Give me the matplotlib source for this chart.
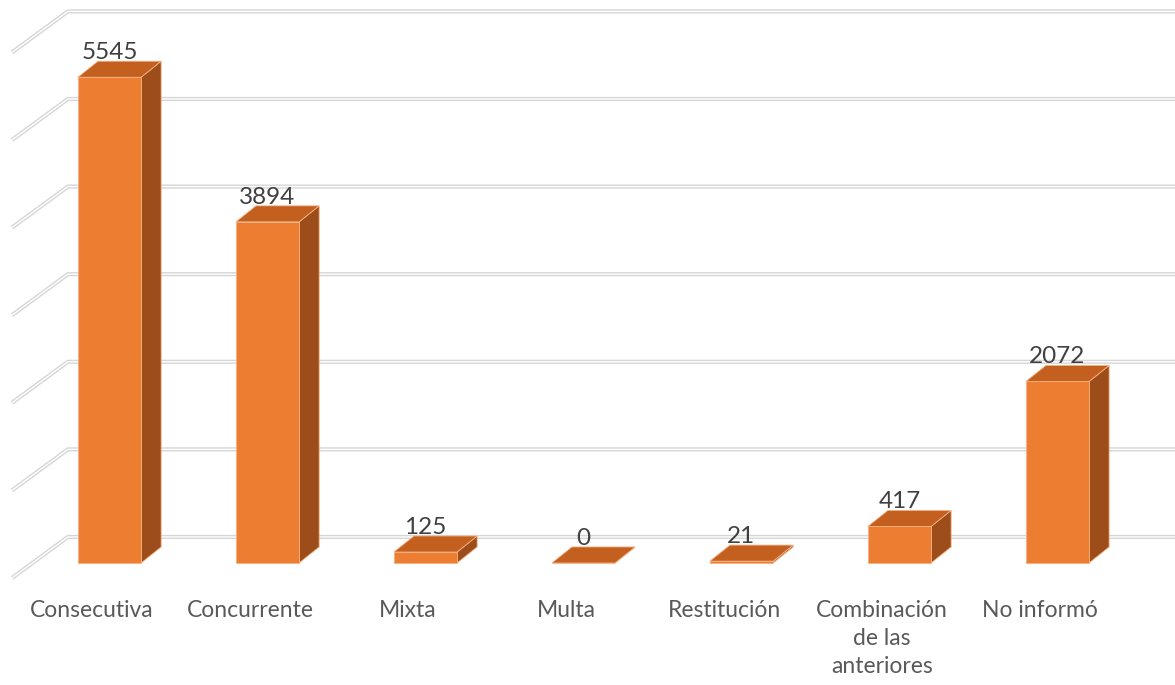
import matplotlib.pyplot as plt
from matplotlib.patches import Polygon

categories = ["Consecutiva", "Concurrente", "Mixta", "Multa", "Restitución",
              "Combinación\nde las\nanteriores", "No informó"]
values = [5545, 3894, 125, 0, 21, 417, 2072]
grid_values = [0, 1000, 2000, 3000, 4000, 5000, 6000]

# fake 3D geometry (data units)
BAR_W = 0.40
DX, DY = 0.127, 183          # bar depth
WALL_BACK, WALL_FRONT = 297, -171
WALL_X0, WALL_X1 = -0.617, -0.263

FRONT = "#ed7d31"
TOP = "#c4601f"
SIDE = "#9d4d1a"
GRID = "#d6d6d6"

plt.rcParams["font.family"] = ["Lato", "DejaVu Sans"]

fig = plt.figure(figsize=(11.75, 6.85), dpi=100)
ax = fig.add_axes([0, 0, 1, 1])
ax.set_xlim(-0.693, 6.744)
ax.set_ylim(-1393, 6427)
ax.axis("off")

# back wall and side wall gridlines
for g in grid_values:
    xs = [WALL_X0, WALL_X1, 7.5]
    ys = [g + WALL_FRONT, g + WALL_BACK, g + WALL_BACK]
    ax.plot(xs, ys, color=GRID, lw=3.0, solid_capstyle="butt", zorder=1)
    ax.plot(xs, ys, color="white", lw=1.0, solid_capstyle="butt", zorder=1.1)

for i, v in enumerate(values):
    x0, x1 = i - BAR_W / 2, i + BAR_W / 2
    side = [(x1, 0), (x1 + DX, DY), (x1 + DX, v + DY), (x1, v)]
    top = [(x0, v), (x1, v), (x1 + DX, v + DY), (x0 + DX, v + DY)]
    front = [(x0, 0), (x1, 0), (x1, v), (x0, v)]
    for pts, col in [(side, SIDE), (top, TOP), (front, FRONT)]:
        ax.add_patch(Polygon(pts, closed=True, facecolor=col,
                             edgecolor="#f4b183", lw=0.6, zorder=3))
    ax.annotate(str(v), (i, v), xytext=(0, 13), textcoords="offset points",
                ha="center", va="baseline", fontsize=17.5, color="#404040",
                zorder=5)
    ax.text(i - 0.11, -420, categories[i], ha="center", va="top",
            multialignment="center", fontsize=16.5, color="#595959",
            linespacing=1.42)

fig.savefig("out.png", dpi=100)
